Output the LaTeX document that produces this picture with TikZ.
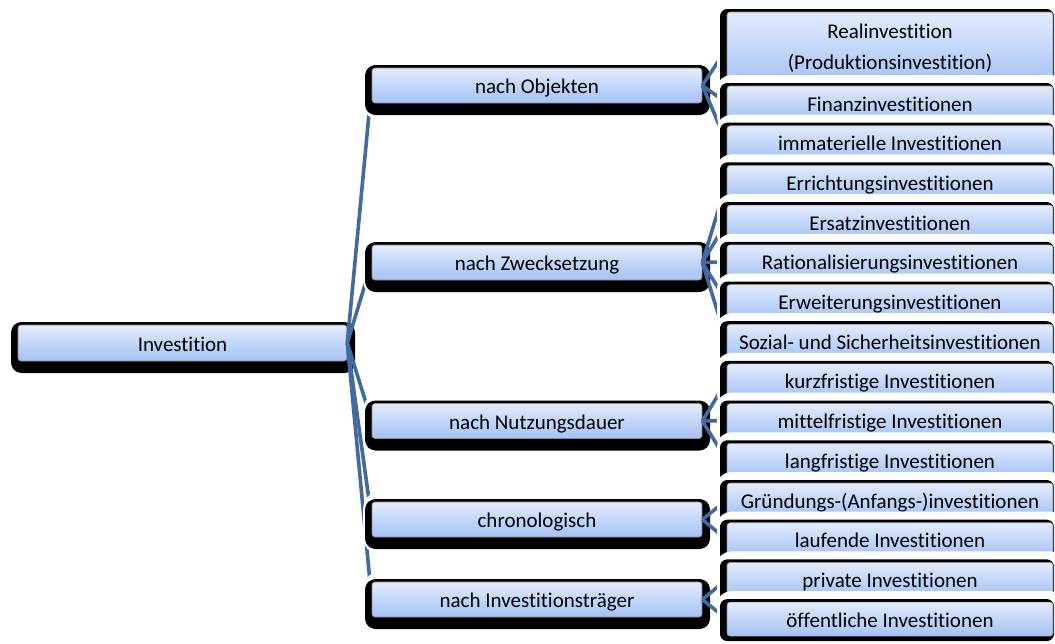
\documentclass[tikz,border=0pt]{standalone}
\usepackage{fontspec}
\setmainfont{Carlito}[Ligatures=NoCommon]
\usepackage{tikz}
\pgfdeclarelayer{rootlayer}
\pgfdeclarelayer{rootlines}
\pgfdeclarelayer{midlayer}
\pgfdeclarelayer{midlines}
\pgfsetlayers{rootlayer,rootlines,midlayer,midlines,main}
\definecolor{boxtop}{RGB}{226,235,252}
\definecolor{boxbottom}{RGB}{164,194,245}
\definecolor{linkblue}{RGB}{66,106,158}
\tikzset{
    midnode/.style={
        rectangle,
        rounded corners=3pt,
        draw=black!45, % 细边框
        line width=0.6pt,
        top color=boxtop, % 上浅下深
        bottom color=boxbottom,
        minimum width=330pt,
        minimum height=35pt,
        inner sep=0,
        text height=18pt,
        text depth=2pt,
        font=\fontsize{21}{31}\selectfont,
        preaction={fill=white, draw=white, line width=27pt, line join=round,
            transform canvas={xshift=4.5pt, yshift=-3.5pt}}, % 白色外框
        preaction={fill=black, draw=black, line width=15pt, line join=round,
            transform canvas={xshift=0.5pt, yshift=-4.5pt}} % 黑色阴影
    },
    rootnode/.style={
        midnode,
        minimum width=329pt,
        minimum height=36pt
    },
    leafnode/.style={
        rectangle,
        rounded corners=3pt,
        draw=black!45,
        line width=0.6pt,
        top color=boxtop,
        bottom color=boxbottom,
        minimum width=326pt,
        minimum height=34pt,
        inner sep=0,
        align=center,
        text height=18pt,
        text depth=2pt,
        font=\fontsize{21}{31}\selectfont,
        preaction={fill=white, draw=white, line width=22pt, line join=round,
            transform canvas={xshift=1pt}}, % 白色外框
        preaction={fill=black, draw=black, line width=8pt, line join=round,
            transform canvas={xshift=-3pt, yshift=-1pt}} % 黑色阴影
    },
    link/.style={
        draw=linkblue,
        line width=3.6pt
    }
}

\begin{document}
\begin{tikzpicture}[x=1pt, y=-1pt]
    \useasboundingbox (0,0) rectangle (1055,643);
    % 根节点
    \begin{pgfonlayer}{rootlayer}
        \fill[white] (0,0) rectangle (1055,643);
        \node[rootnode] (inv) at (182.5,343) {Investition};
    \end{pgfonlayer}
    % 第一层
    \begin{pgfonlayer}{midlayer}
        \node[midnode] (obj) at (537,85.5) {nach Objekten};
        \node[midnode] (zweck) at (537,262.5) {nach Zwecksetzung};
        \node[midnode] (nutz) at (537,421) {nach Nutzungsdauer};
        \node[midnode] (chrono) at (537,519.5) {chronologisch};
        \node[midnode] (traeger) at (537,599.5) {nach Investitionsträger};
    \end{pgfonlayer}
    % 第二层
    \node[leafnode, minimum height=73pt, text height={}, text depth={}] (real) at (890,48.5) {Realinvestition\\(Produktionsinvestition)};
    \node[leafnode] (finanz) at (890,103) {Finanzinvestitionen};
    \node[leafnode] (immat) at (890,142.7) {immaterielle Investitionen};
    \node[leafnode] (erricht) at (890,182.4) {Errichtungsinvestitionen};
    \node[leafnode] (ersatz) at (890,222.1) {Ersatzinvestitionen};
    \node[leafnode] (ratio) at (890,261.8) {Rationalisierungsinvestitionen};
    \node[leafnode] (erweit) at (890,301.5) {Erweiterungsinvestitionen};
    \node[leafnode] (sozial) at (890,341.2) {Sozial- und Sicherheitsinvestitionen};
    \node[leafnode] (kurz) at (890,380.9) {kurzfristige Investitionen};
    \node[leafnode] (mittel) at (890,420.6) {mittelfristige Investitionen};
    \node[leafnode] (lang) at (890,460.3) {langfristige Investitionen};
    \node[leafnode] (gruend) at (890,500) {Gründungs-(Anfangs-)investitionen};
    \node[leafnode] (laufend) at (890,539.7) {laufende Investitionen};
    \node[leafnode] (privat) at (890,579.4) {private Investitionen};
    \node[leafnode] (oeff) at (890,619.1) {öffentliche Investitionen};
    % 连线
    \begin{pgfonlayer}{rootlines}
        \draw[link] (inv.east) -- (obj.west);
        \draw[link] (inv.east) -- (zweck.west);
        \draw[link] (inv.east) -- (nutz.west);
        \draw[link] (inv.east) -- (chrono.west);
        \draw[link] (inv.east) -- (traeger.west);
    \end{pgfonlayer}
    \begin{pgfonlayer}{midlines}
        \draw[link] (obj.east) -- (real.west);
        \draw[link] (obj.east) -- (finanz.west);
        \draw[link] (obj.east) -- (immat.west);
        \draw[link] (zweck.east) -- (erricht.west);
        \draw[link] (zweck.east) -- (ersatz.west);
        \draw[link] (zweck.east) -- (ratio.west);
        \draw[link] (zweck.east) -- (erweit.west);
        \draw[link] (zweck.east) -- (sozial.west);
        \draw[link] (nutz.east) -- (kurz.west);
        \draw[link] (nutz.east) -- (mittel.west);
        \draw[link] (nutz.east) -- (lang.west);
        \draw[link] (chrono.east) -- (gruend.west);
        \draw[link] (chrono.east) -- (laufend.west);
        \draw[link] (traeger.east) -- (privat.west);
        \draw[link] (traeger.east) -- (oeff.west);
    \end{pgfonlayer}
\end{tikzpicture}
\end{document}
